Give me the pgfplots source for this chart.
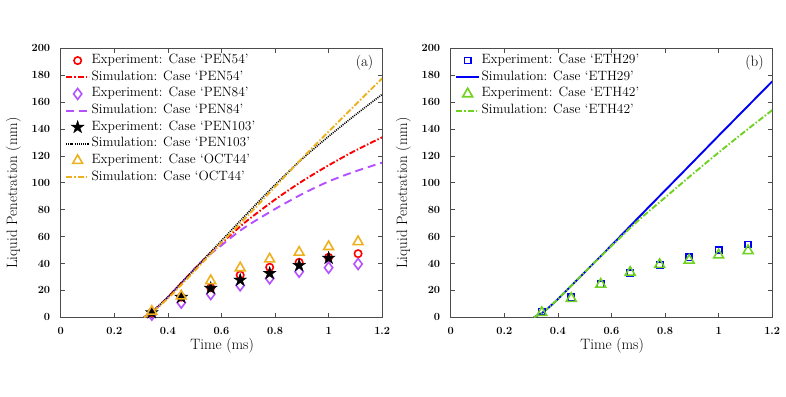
\documentclass[border=0pt]{standalone}
\usepackage{pgfplots}
\pgfplotsset{compat=1.18}
\usetikzlibrary{plotmarks}

\definecolor{cred}{RGB}{255,0,0}
\definecolor{cpurple}{RGB}{180,80,255}
\definecolor{corange}{RGB}{237,177,32}
\definecolor{cblue}{RGB}{0,0,245}
\definecolor{cgreen}{RGB}{110,210,30}

% filled five-pointed star
\pgfdeclareplotmark{fivestar}{%
  \pgfpathmoveto{\pgfpointpolar{90}{\pgfplotmarksize}}%
  \pgfpathlineto{\pgfpointpolar{126}{0.382\pgfplotmarksize}}%
  \pgfpathlineto{\pgfpointpolar{162}{\pgfplotmarksize}}%
  \pgfpathlineto{\pgfpointpolar{198}{0.382\pgfplotmarksize}}%
  \pgfpathlineto{\pgfpointpolar{234}{\pgfplotmarksize}}%
  \pgfpathlineto{\pgfpointpolar{270}{0.382\pgfplotmarksize}}%
  \pgfpathlineto{\pgfpointpolar{306}{\pgfplotmarksize}}%
  \pgfpathlineto{\pgfpointpolar{342}{0.382\pgfplotmarksize}}%
  \pgfpathlineto{\pgfpointpolar{18}{\pgfplotmarksize}}%
  \pgfpathlineto{\pgfpointpolar{54}{0.382\pgfplotmarksize}}%
  \pgfpathclose\pgfusepathqfillstroke}

\newcommand{\labfont}{\fontsize{15}{18}\selectfont}
\newcommand{\tickfont}{\bfseries\fontsize{11}{13}\selectfont}

\pgfplotsset{
  panel/.style={
    scale only axis, width=321.5pt, height=269pt,
    xmin=0, xmax=1.2, ymin=0, ymax=200,
    xtick={0,0.2,...,1.2}, ytick={0,20,...,200},
    tick align=inside,
    axis line style={black!70, line width=0.7pt},
    every tick/.style={black!70, line width=0.7pt},
    /pgf/number format/assume math mode=true,
    xticklabel style={font=\tickfont},
    yticklabel style={font=\tickfont},
    xticklabel shift=6.5pt, yticklabel shift=7pt,
    xlabel={Time (ms)}, ylabel={Liquid Penetration (mm)},
    every axis x label/.style={at={(axis description cs:0.502,-0.107)}, anchor=center, font=\labfont},
    every axis y label/.style={at={(axis description cs:-0.1474,0.462)}, rotate=90, anchor=center, font=\labfont},
    legend style={at={(0.0134,0.983)}, anchor=north west, draw=none, fill=none,
      inner sep=0pt, font=\fontsize{13.5}{16}\selectfont,
      nodes={inner sep=0pt, text height=9.5pt, text depth=3.5pt},
      row sep=1.67pt, column sep=1.5pt},
    legend cell align=left,
  },
  leg/.style={legend image code/.code={%
    \path[draw=none,fill=none] (0pt,-7.5pt) rectangle (23pt,7.5pt);
    \draw[mark repeat=2,mark phase=2,##1] plot coordinates {(0pt,0pt) (11.5pt,0pt) (23pt,0pt)};}},
  exp/.style={only marks, line width=1.6pt, leg},
  sim/.style={no marks, line width=1.9pt, smooth, leg},
  dashdot/.style={dash pattern=on 6pt off 2pt on 1.5pt off 2pt},
}

\begin{document}
\begin{tikzpicture}
\useasboundingbox (0,0) rectangle (786pt,396pt);

% (a)
\begin{axis}[panel, at={(60.7pt,78.7pt)}, anchor=south west]
  \addplot[exp, cred, mark=o, mark size=3.7pt] coordinates {
    (0.34,3.5) (0.45,15) (0.56,22) (0.67,31.4) (0.78,37.2) (0.89,40.9) (1.0,44.6) (1.11,47.3)};
  \addplot[sim, cred, dashdot] coordinates {
    (0.31,0) (0.33,2.2) (0.35,5.5) (0.40,15) (0.45,25.5) (0.50,36) (0.55,46) (0.60,55)
    (0.65,64) (0.70,72.5) (0.80,87.5) (0.90,101) (1.00,113) (1.10,124) (1.20,133.8)};
  \addplot[exp, cpurple, mark=diamond, mark size=5.5pt] coordinates {
    (0.34,2) (0.45,10.9) (0.56,17.3) (0.67,23.8) (0.78,29) (0.89,33.9) (1.0,36.9) (1.11,39.6)};
  \addplot[sim, cpurple, dash pattern=on 8pt off 5pt] coordinates {
    (0.31,0) (0.33,2.2) (0.35,5.5) (0.40,15) (0.45,25.5) (0.50,36) (0.55,45.5) (0.60,53.5)
    (0.65,61.5) (0.70,68.5) (0.80,80.5) (0.90,91.5) (1.00,101) (1.10,108.5) (1.20,115)};
  \addplot[exp, black, mark=fivestar, mark size=6.7pt, mark options={fill=black, line width=0.4pt}] coordinates {
    (0.34,3.5) (0.45,14.9) (0.56,21.6) (0.67,27.7) (0.78,32.7) (0.89,38.6) (1.0,44)};
  \addplot[sim, black, line width=1.6pt, dash pattern=on 1pt off 1.1pt] coordinates {
    (0.31,0) (0.33,2.2) (0.35,5.5) (0.40,15) (0.45,25.5) (0.50,36) (0.55,46.5) (0.60,57)
    (0.70,78) (0.80,98.5) (0.90,117.5) (1.00,134.5) (1.10,150.5) (1.20,165.8)};
  \addplot[exp, corange, mark=triangle, mark size=5.7pt] coordinates {
    (0.34,4.4) (0.45,15.8) (0.56,27.2) (0.67,36.7) (0.78,43.3) (0.89,48.3) (1.0,52.5) (1.11,56.2)};
  \addplot[sim, corange, dashdot] coordinates {
    (0.31,0) (0.33,2) (0.35,5) (0.40,14) (0.45,24) (0.50,34.5) (0.55,45) (0.60,55.5)
    (0.70,76) (0.80,97) (0.90,118) (1.00,138) (1.10,158) (1.20,177.7)};
  \legend{Experiment: Case `PEN54',Simulation: Case `PEN54',
          Experiment: Case `PEN84',Simulation: Case `PEN84',
          Experiment: Case `PEN103',Simulation: Case `PEN103',
          Experiment: Case `OCT44',Simulation: Case `OCT44'}
  \node[font=\labfont] at (rel axis cs:0.945,0.947) {(a)};
\end{axis}

% (b)
\begin{axis}[panel, at={(450.7pt,78.7pt)}, anchor=south west]
  \addplot[exp, cblue, mark=square, mark size=3.1pt] coordinates {
    (0.34,4.2) (0.45,14.9) (0.56,24.5) (0.67,32.7) (0.78,38.9) (0.89,44.6) (1.0,50) (1.11,54.2)};
  \addplot[sim, cblue] coordinates {
    (0.31,0) (0.33,2) (0.35,4.5) (0.40,13.5) (0.45,23.5) (0.50,33.5) (0.60,53.5)
    (0.70,74) (0.80,94.3) (0.90,114.6) (1.00,135) (1.10,155.2) (1.20,175.4)};
  \addplot[exp, cgreen, mark=triangle, mark size=5.7pt] coordinates {
    (0.34,3.5) (0.45,14) (0.56,24.5) (0.67,33.4) (0.78,39.2) (0.89,42.4) (1.0,46.3) (1.11,49.5)};
  \addplot[sim, cgreen, dashdot] coordinates {
    (0.31,0) (0.33,2) (0.35,4.5) (0.40,13.5) (0.45,23.5) (0.50,33.5) (0.60,53)
    (0.70,72) (0.80,89) (0.90,106) (1.00,122.5) (1.10,138.5) (1.20,154)};
  \legend{Experiment: Case `ETH29',Simulation: Case `ETH29',
          Experiment: Case `ETH42',Simulation: Case `ETH42'}
  \node[font=\labfont] at (rel axis cs:0.945,0.947) {(b)};
\end{axis}
\end{tikzpicture}
\end{document}
